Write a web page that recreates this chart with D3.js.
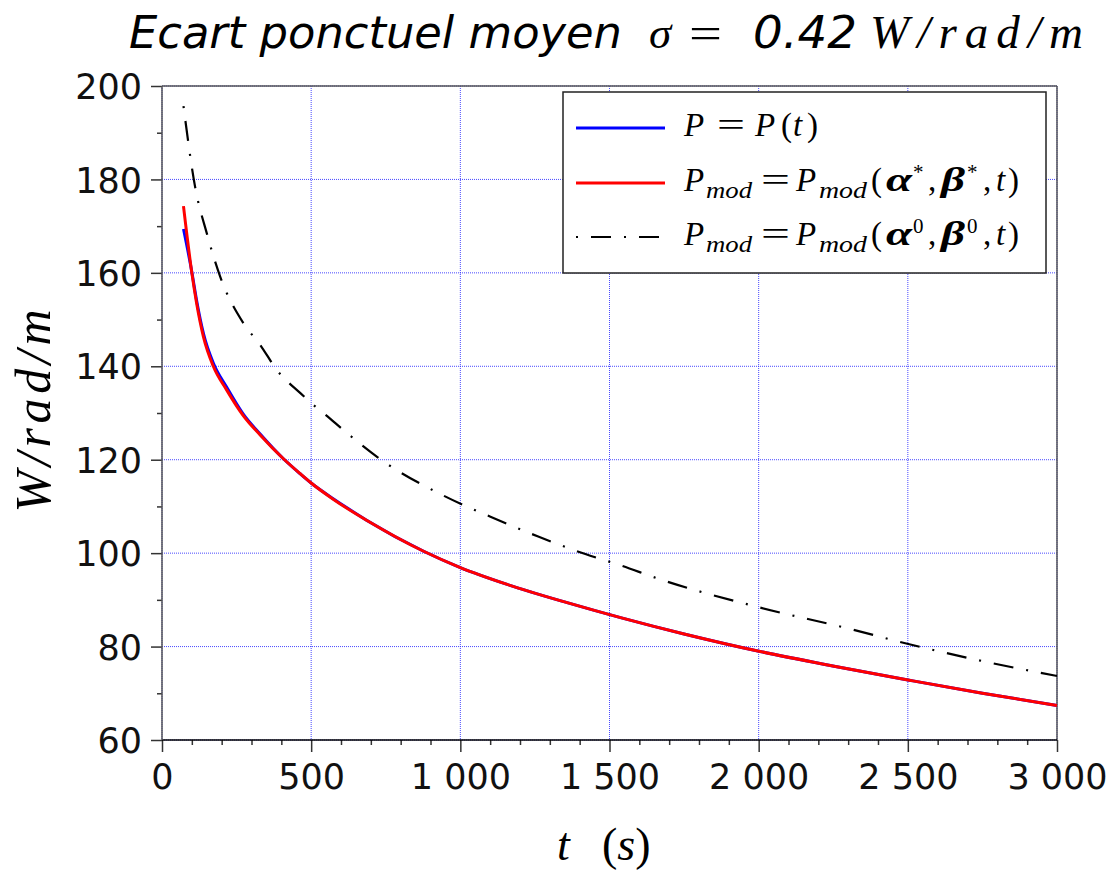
<!DOCTYPE html>
<html><head><meta charset="utf-8">
<script src="https://cdn.jsdelivr.net/npm/d3@7"></script>
<style>
html,body{margin:0;padding:0;background:#fff;}
svg{display:block;}
</style></head>
<body>
<svg id="chart" width="1110" height="872"></svg>
<script>
// ---------- data ----------
const tFit = [72, 100, 116, 139, 172, 217, 273, 329, 407, 463, 502, 575, 620, 687, 877, 1000, 1157, 1358, 1537, 1750, 2001, 2253, 2505, 2750, 3000];
const pMeasured = [169.4, 160.2, 154.1, 147.0, 140.7, 135.5, 129.7, 125.5, 120.2, 117.0, 114.9, 111.6, 109.7, 107.0, 100.4, 96.9, 93.3, 89.4, 86.2, 82.7, 79.0, 75.8, 72.8, 70.0, 67.4];
const pModOpt = [174.3, 160.0, 153.5, 146.3, 140.0, 134.9, 129.4, 125.3, 120.2, 117.0, 114.9, 111.5, 109.6, 107.0, 100.4, 96.9, 93.3, 89.4, 86.2, 82.7, 79.0, 75.8, 72.8, 70.0, 67.4];
const tInit = [72, 111, 150, 195, 273, 329, 385, 463, 508, 541, 622, 732, 944, 1101, 1263, 1419, 1537, 1660, 2001, 2298, 2505, 2779, 3000];
const pModInit = [195.7, 178.4, 168.5, 159.2, 149.2, 144.6, 139.2, 134.3, 131.7, 130.0, 125.6, 120.1, 112.3, 107.8, 103.5, 99.8, 97.4, 94.6, 88.4, 83.9, 80.5, 76.5, 73.7];
const xTicks = [0, 500, 1000, 1500, 2000, 2500, 3000];
const xMinorTicks = d3.range(0, 3001, 100);
const yTicks = [60, 80, 100, 120, 140, 160, 180, 200];
const yMinorTicks = d3.range(60, 201, 10);

// ---------- layout ----------
const svg = d3.select("#chart");
const L = 162, R = 1057, T = 86, B = 740;
const x = d3.scaleLinear().domain([0, 3000]).range([L, R]);
const y = d3.scaleLinear().domain([60, 200]).range([B, T]);
const loc = d3.formatLocale({decimal: ".", thousands: " ", grouping: [3], currency: ["", ""]});
const fmt = loc.format(",");
const tickFont = "'DejaVu Sans', sans-serif";
const mathFont = "'Liberation Serif', 'DejaVu Serif', serif";

// grid
const grid = svg.append("g");
grid.selectAll("line.vg").data(xTicks).join("line")
  .attr("x1", d => x(d)).attr("x2", d => x(d)).attr("y1", T).attr("y2", B)
  .attr("stroke", "#2a2aff").attr("stroke-width", 1).attr("stroke-dasharray", "1,1").attr("opacity", 0.85);
grid.selectAll("line.hg").data(yTicks).join("line")
  .attr("x1", L).attr("x2", R).attr("y1", d => y(d)).attr("y2", d => y(d))
  .attr("stroke", "#2a2aff").attr("stroke-width", 1).attr("stroke-dasharray", "1,1").attr("opacity", 0.85);

// frame top/right
svg.append("line").attr("x1", L).attr("x2", R).attr("y1", T).attr("y2", T).attr("stroke", "#555").attr("stroke-width", 1.5);
svg.append("line").attr("x1", R).attr("x2", R).attr("y1", T).attr("y2", B).attr("stroke", "#555").attr("stroke-width", 1.5);

// axes
const xAxis = svg.append("g").attr("transform", `translate(0,${B})`)
  .call(d3.axisBottom(x).tickValues(xTicks).tickSize(12).tickPadding(12).tickFormat(fmt));
const xMinor = svg.append("g").attr("transform", `translate(0,${B})`)
  .call(d3.axisBottom(x).tickValues(xMinorTicks.filter(d => !xTicks.includes(d))).tickSize(5).tickFormat(""));
const yAxis = svg.append("g").attr("transform", `translate(${L},0)`)
  .call(d3.axisLeft(y).tickValues(yTicks).tickSize(11).tickPadding(9));
const yMinor = svg.append("g").attr("transform", `translate(${L},0)`)
  .call(d3.axisLeft(y).tickValues(yMinorTicks.filter(d => !yTicks.includes(d))).tickSize(5).tickFormat(""));
[xAxis, xMinor, yAxis, yMinor].forEach(g => {
  g.select(".domain").remove();
  g.selectAll(".tick line").attr("stroke", "#333").attr("stroke-width", 1.5);
  g.selectAll(".tick text").attr("font-family", tickFont).attr("font-size", 35).attr("fill", "#111");
});
xAxis.selectAll(".tick text").attr("dy", "0.72em");
yAxis.selectAll(".tick text").attr("dy", "0.36em");
svg.append("line").attr("x1", L).attr("x2", R).attr("y1", B).attr("y2", B).attr("stroke", "#000").attr("stroke-width", 1.5);
svg.append("line").attr("x1", L).attr("x2", L).attr("y1", T).attr("y2", B).attr("stroke", "#555").attr("stroke-width", 1.5);

// curves
const line = d3.line().x(d => x(d[0])).y(d => y(d[1])).curve(d3.curveMonotoneX);
svg.append("path").datum(d3.zip(tFit, pMeasured)).attr("d", line)
  .attr("fill", "none").attr("stroke", "#0000ff").attr("stroke-width", 3);
svg.append("path").datum(d3.zip(tFit, pModOpt)).attr("d", line)
  .attr("fill", "none").attr("stroke", "#ff0000").attr("stroke-width", 3);
svg.append("path").datum(d3.zip(tInit, pModInit)).attr("d", line)
  .attr("fill", "none").attr("stroke", "#000").attr("stroke-width", 2.2).attr("stroke-dasharray", "2,13,20,13");

// rich text helper: segments positioned at absolute x
function rich(sel, segs, size, baseY) {
  const t = sel.append("text").attr("font-family", mathFont).attr("font-size", size).attr("y", baseY);
  segs.forEach(s => {
    const ts = t.append("tspan").text(s.t).attr("x", s.x).attr("y", baseY + (s.shift || 0));
    if (s.i) ts.attr("font-style", "italic");
    if (s.b) ts.attr("font-weight", "bold");
    if (s.sz) ts.attr("font-size", s.sz);
    if (s.tl) ts.attr("textLength", s.tl).attr("lengthAdjust", "spacingAndGlyphs");
  });
  return t;
}

// legend
const lg = svg.append("g");
lg.append("rect").attr("x", 563).attr("y", 92).attr("width", 483).attr("height", 181)
  .attr("fill", "#fff").attr("stroke", "#222").attr("stroke-width", 1.5);
const legendRows = [
  {color: "#0000ff", dash: null, w: 3, yy: 128, sym: "*", simple: true},
  {color: "#ff0000", dash: null, w: 3, yy: 183, sym: "*"},
  {color: "#000", dash: "2,13,20,13", w: 2.2, yy: 237, sym: "0"}
];
legendRows.forEach(r => {
  const ln = lg.append("line").attr("x1", 576).attr("x2", 665).attr("y1", r.yy).attr("y2", r.yy)
    .attr("stroke", r.color).attr("stroke-width", r.w);
  if (r.dash) ln.attr("stroke-dasharray", r.dash);
  let segs;
  if (r.simple) {
    segs = [{t: "P", i: true, x: 684}, {t: "=", x: 717, tl: 28}, {t: "P", i: true, x: 755},
            {t: "(", x: 781}, {t: "t", i: true, x: 793}, {t: ")", x: 807}];
  } else {
    const sup = -12;
    segs = [{t: "P", i: true, x: 684}, {t: "mod", i: true, sz: 23, shift: 7, x: 706, tl: 46},
      {t: "=", x: 761, tl: 29}, {t: "P", i: true, x: 796}, {t: "mod", i: true, sz: 23, shift: 7, x: 819, tl: 48},
      {t: "(", x: 871}, {t: "α", i: true, b: true, x: 886, tl: 26}, {t: r.sym, sz: 21, shift: sup, x: 913},
      {t: ",", x: 928}, {t: "β", i: true, b: true, x: 941, tl: 24}, {t: r.sym, sz: 21, shift: sup, x: 967},
      {t: ",", x: 983}, {t: "t", i: true, x: 996}, {t: ")", x: 1008}];
  }
  rich(lg, segs, 33, r.yy + 8);
});

// title
const title = svg.append("text").attr("y", 48).attr("font-size", 45);
title.append("tspan").text("Ecart ponctuel moyen").attr("x", 129).attr("font-family", tickFont).attr("font-style", "italic")
  .attr("textLength", 493).attr("lengthAdjust", "spacingAndGlyphs");
title.append("tspan").text("σ").attr("x", 649).attr("font-family", mathFont).attr("font-style", "italic");
title.append("tspan").text("=").attr("x", 689).attr("font-family", mathFont).attr("textLength", 33).attr("lengthAdjust", "spacingAndGlyphs");
title.append("tspan").text("0.42").attr("x", 753).attr("font-family", tickFont).attr("font-style", "italic")
  .attr("textLength", 104).attr("lengthAdjust", "spacingAndGlyphs");
title.append("tspan").text("W/rad/m").attr("x", 870).attr("font-family", mathFont).attr("font-style", "italic")
  .attr("font-size", 47).attr("textLength", 213).attr("lengthAdjust", "spacing");

// y label
svg.append("text").attr("transform", "translate(50,411) rotate(-90)").attr("text-anchor", "middle")
  .attr("font-family", mathFont).attr("font-style", "italic").attr("font-size", 50)
  .attr("textLength", 203).attr("lengthAdjust", "spacing").text("W/rad/m");

// x label
const xl = svg.append("text").attr("y", 860).attr("font-family", mathFont).attr("font-size", 46);
xl.append("tspan").text("t").attr("x", 557).attr("font-style", "italic");
xl.append("tspan").text("(").attr("x", 602);
xl.append("tspan").text("s").attr("font-style", "italic");
xl.append("tspan").text(")");
</script>
</body></html>
